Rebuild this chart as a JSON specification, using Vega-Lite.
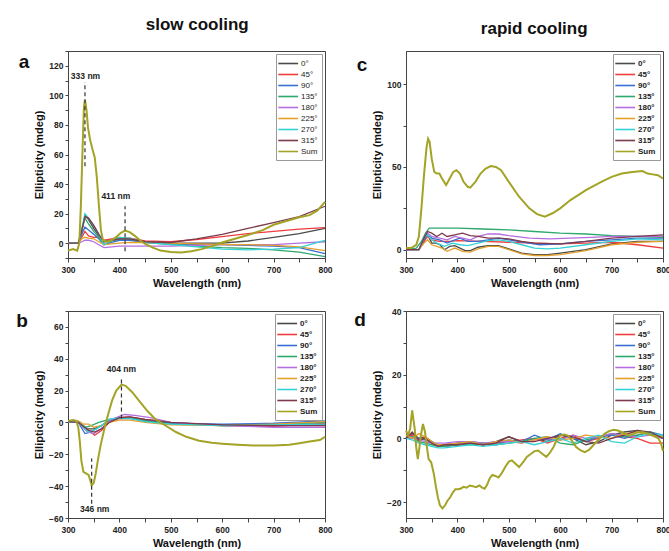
{
"$schema":"https://vega.github.io/schema/vega-lite/v6.json",
"background":"white",
"padding":{"left":15,"top":15,"right":2,"bottom":0},
"config":{
 "font":"Liberation Sans",
 "view":{"stroke":"#444","strokeWidth":1},
 "axis":{"grid":false,"labelFontWeight":"bold","labelFontSize":8.5,"labelColor":"#222","titleFontWeight":"bold","titleFontSize":11,"titleColor":"#111","domainColor":"#444","tickColor":"#444","tickSize":3,"labelPadding":2,"labelOverlap":false,"labelFlush":false,"titlePadding":4,"tickCount":100,"format":"d"},
 "axisX":{"tickSize":4,"labelPadding":3,"titlePadding":4},
 "legend":{"orient":"top-right","offset":3,"strokeColor":"#999","fillColor":"white","padding":4,"symbolType":"M-1.6,0H2.8","symbolSize":81,"symbolStrokeWidth":1.6,"labelFontSize":8,"labelOffset":10,"rowPadding":1,"labelColor":"#222","labelFont":"Liberation Sans"}
},
"datasets":{
"a":[
{"s":"0°","x":300,"y":0},{"s":"0°","x":320,"y":0},{"s":"0°","x":327,"y":8},{"s":"0°","x":333,"y":19},{"s":"0°","x":340,"y":16},{"s":"0°","x":350,"y":10},{"s":"0°","x":360,"y":5},{"s":"0°","x":370,"y":1},{"s":"0°","x":385,"y":2},{"s":"0°","x":400,"y":3},{"s":"0°","x":420,"y":2.5},{"s":"0°","x":450,"y":0.5},{"s":"0°","x":500,"y":0},{"s":"0°","x":550,"y":0},{"s":"0°","x":600,"y":0},{"s":"0°","x":650,"y":1.5},{"s":"0°","x":700,"y":4},{"s":"0°","x":750,"y":6.5},{"s":"0°","x":800,"y":10},
{"s":"45°","x":300,"y":0},{"s":"45°","x":320,"y":0},{"s":"45°","x":327,"y":4},{"s":"45°","x":333,"y":8},{"s":"45°","x":340,"y":5},{"s":"45°","x":350,"y":4},{"s":"45°","x":360,"y":4},{"s":"45°","x":370,"y":2},{"s":"45°","x":385,"y":3},{"s":"45°","x":400,"y":4},{"s":"45°","x":420,"y":3.5},{"s":"45°","x":450,"y":1.5},{"s":"45°","x":500,"y":1},{"s":"45°","x":550,"y":2.5},{"s":"45°","x":600,"y":4.5},{"s":"45°","x":650,"y":6.5},{"s":"45°","x":700,"y":8},{"s":"45°","x":750,"y":9.5},{"s":"45°","x":800,"y":10.5},
{"s":"90°","x":300,"y":0},{"s":"90°","x":320,"y":0},{"s":"90°","x":327,"y":6},{"s":"90°","x":333,"y":11},{"s":"90°","x":340,"y":9},{"s":"90°","x":350,"y":6},{"s":"90°","x":360,"y":3},{"s":"90°","x":370,"y":-1},{"s":"90°","x":385,"y":0.5},{"s":"90°","x":400,"y":2},{"s":"90°","x":420,"y":2},{"s":"90°","x":450,"y":0.5},{"s":"90°","x":500,"y":-0.5},{"s":"90°","x":550,"y":-1},{"s":"90°","x":600,"y":-1},{"s":"90°","x":650,"y":-1.5},{"s":"90°","x":700,"y":-2},{"s":"90°","x":750,"y":-3},{"s":"90°","x":800,"y":-7},
{"s":"135°","x":300,"y":0},{"s":"135°","x":320,"y":0},{"s":"135°","x":327,"y":9},{"s":"135°","x":333,"y":17},{"s":"135°","x":340,"y":13},{"s":"135°","x":350,"y":8},{"s":"135°","x":360,"y":4},{"s":"135°","x":370,"y":-1},{"s":"135°","x":385,"y":1.5},{"s":"135°","x":400,"y":3},{"s":"135°","x":420,"y":3},{"s":"135°","x":450,"y":0.5},{"s":"135°","x":500,"y":-1},{"s":"135°","x":550,"y":-2},{"s":"135°","x":600,"y":-3},{"s":"135°","x":650,"y":-3.5},{"s":"135°","x":700,"y":-4.5},{"s":"135°","x":750,"y":-6},{"s":"135°","x":800,"y":-9},
{"s":"180°","x":300,"y":0},{"s":"180°","x":320,"y":0},{"s":"180°","x":327,"y":1},{"s":"180°","x":333,"y":2},{"s":"180°","x":340,"y":2},{"s":"180°","x":350,"y":1},{"s":"180°","x":360,"y":-1},{"s":"180°","x":370,"y":-3},{"s":"180°","x":385,"y":-2.5},{"s":"180°","x":400,"y":-2},{"s":"180°","x":420,"y":-2},{"s":"180°","x":450,"y":-2},{"s":"180°","x":500,"y":-2},{"s":"180°","x":550,"y":-1.5},{"s":"180°","x":600,"y":-1},{"s":"180°","x":650,"y":-1},{"s":"180°","x":700,"y":-1},{"s":"180°","x":750,"y":0},{"s":"180°","x":800,"y":1},
{"s":"225°","x":300,"y":0},{"s":"225°","x":320,"y":0},{"s":"225°","x":327,"y":3},{"s":"225°","x":333,"y":4},{"s":"225°","x":340,"y":3.5},{"s":"225°","x":350,"y":3},{"s":"225°","x":360,"y":1},{"s":"225°","x":370,"y":-1},{"s":"225°","x":385,"y":-0.5},{"s":"225°","x":400,"y":0},{"s":"225°","x":420,"y":0.5},{"s":"225°","x":450,"y":0.5},{"s":"225°","x":500,"y":0},{"s":"225°","x":550,"y":-0.5},{"s":"225°","x":600,"y":-1},{"s":"225°","x":650,"y":-1},{"s":"225°","x":700,"y":-1.5},{"s":"225°","x":750,"y":-2.5},{"s":"225°","x":800,"y":-5},
{"s":"270°","x":300,"y":0},{"s":"270°","x":320,"y":0},{"s":"270°","x":327,"y":10},{"s":"270°","x":333,"y":20},{"s":"270°","x":340,"y":17},{"s":"270°","x":350,"y":12},{"s":"270°","x":360,"y":6},{"s":"270°","x":370,"y":-1},{"s":"270°","x":385,"y":2},{"s":"270°","x":400,"y":4},{"s":"270°","x":420,"y":3.5},{"s":"270°","x":450,"y":0.5},{"s":"270°","x":500,"y":-1},{"s":"270°","x":550,"y":-2.5},{"s":"270°","x":600,"y":-4},{"s":"270°","x":650,"y":-4.5},{"s":"270°","x":700,"y":-4},{"s":"270°","x":750,"y":-3},{"s":"270°","x":800,"y":2},
{"s":"315°","x":300,"y":0},{"s":"315°","x":320,"y":0},{"s":"315°","x":327,"y":9},{"s":"315°","x":333,"y":18},{"s":"315°","x":340,"y":17},{"s":"315°","x":350,"y":12},{"s":"315°","x":360,"y":6},{"s":"315°","x":370,"y":1},{"s":"315°","x":385,"y":2},{"s":"315°","x":400,"y":3},{"s":"315°","x":420,"y":3},{"s":"315°","x":450,"y":1},{"s":"315°","x":500,"y":0.5},{"s":"315°","x":550,"y":3},{"s":"315°","x":600,"y":6},{"s":"315°","x":650,"y":10},{"s":"315°","x":700,"y":14},{"s":"315°","x":750,"y":18},{"s":"315°","x":800,"y":25},
{"s":"Sum","x":300,"y":-5},{"s":"Sum","x":310,"y":-4},{"s":"Sum","x":318,"y":-5},{"s":"Sum","x":322,"y":0},{"s":"Sum","x":325,"y":25},{"s":"Sum","x":328,"y":60},{"s":"Sum","x":331,"y":92},{"s":"Sum","x":333,"y":97},{"s":"Sum","x":336,"y":90},{"s":"Sum","x":339,"y":78},{"s":"Sum","x":343,"y":70},{"s":"Sum","x":348,"y":63},{"s":"Sum","x":352,"y":58},{"s":"Sum","x":356,"y":45},{"s":"Sum","x":360,"y":26},{"s":"Sum","x":364,"y":9},{"s":"Sum","x":368,"y":2},{"s":"Sum","x":375,"y":1},{"s":"Sum","x":385,"y":2},{"s":"Sum","x":395,"y":4.5},{"s":"Sum","x":403,"y":7},{"s":"Sum","x":411,"y":8.5},{"s":"Sum","x":420,"y":7.5},{"s":"Sum","x":430,"y":5},{"s":"Sum","x":440,"y":2},{"s":"Sum","x":450,"y":-0.5},{"s":"Sum","x":465,"y":-3},{"s":"Sum","x":480,"y":-5},{"s":"Sum","x":500,"y":-6},{"s":"Sum","x":520,"y":-6.2},{"s":"Sum","x":540,"y":-5.5},{"s":"Sum","x":560,"y":-4},{"s":"Sum","x":580,"y":-2},{"s":"Sum","x":600,"y":0.5},{"s":"Sum","x":620,"y":2.5},{"s":"Sum","x":650,"y":5.5},{"s":"Sum","x":680,"y":9},{"s":"Sum","x":700,"y":12.5},{"s":"Sum","x":720,"y":14.5},{"s":"Sum","x":750,"y":17.5},{"s":"Sum","x":770,"y":19},{"s":"Sum","x":785,"y":22},{"s":"Sum","x":800,"y":28}
],
"b":[
{"s":"0°","x":300,"y":0.5},{"s":"0°","x":320,"y":0},{"s":"0°","x":335,"y":-4},{"s":"0°","x":350,"y":-4},{"s":"0°","x":365,"y":-2},{"s":"0°","x":380,"y":1},{"s":"0°","x":400,"y":3},{"s":"0°","x":420,"y":3},{"s":"0°","x":450,"y":1.5},{"s":"0°","x":500,"y":-0.5},{"s":"0°","x":600,"y":-1.5},{"s":"0°","x":700,"y":-1},{"s":"0°","x":800,"y":-1.5},
{"s":"45°","x":300,"y":0.5},{"s":"45°","x":320,"y":0},{"s":"45°","x":340,"y":-5},{"s":"45°","x":352,"y":-8},{"s":"45°","x":365,"y":-5},{"s":"45°","x":380,"y":0},{"s":"45°","x":400,"y":3},{"s":"45°","x":420,"y":3.5},{"s":"45°","x":450,"y":2},{"s":"45°","x":500,"y":0},{"s":"45°","x":600,"y":-2},{"s":"45°","x":700,"y":-2.5},{"s":"45°","x":800,"y":-0.5},
{"s":"90°","x":300,"y":0.5},{"s":"90°","x":320,"y":0},{"s":"90°","x":333,"y":-7},{"s":"90°","x":345,"y":-6},{"s":"90°","x":360,"y":-3},{"s":"90°","x":380,"y":1},{"s":"90°","x":400,"y":2.5},{"s":"90°","x":420,"y":2.5},{"s":"90°","x":450,"y":1},{"s":"90°","x":500,"y":-0.5},{"s":"90°","x":600,"y":-1},{"s":"90°","x":700,"y":-0.5},{"s":"90°","x":800,"y":1},
{"s":"135°","x":300,"y":0.5},{"s":"135°","x":320,"y":0},{"s":"135°","x":335,"y":-3},{"s":"135°","x":345,"y":-2},{"s":"135°","x":360,"y":0},{"s":"135°","x":380,"y":2},{"s":"135°","x":400,"y":3},{"s":"135°","x":420,"y":3},{"s":"135°","x":450,"y":1},{"s":"135°","x":500,"y":-1},{"s":"135°","x":600,"y":-2},{"s":"135°","x":700,"y":-1.5},{"s":"135°","x":800,"y":0},
{"s":"180°","x":300,"y":0.5},{"s":"180°","x":320,"y":0},{"s":"180°","x":338,"y":-6},{"s":"180°","x":350,"y":-7},{"s":"180°","x":365,"y":-4},{"s":"180°","x":385,"y":2},{"s":"180°","x":410,"y":5},{"s":"180°","x":430,"y":4.5},{"s":"180°","x":460,"y":3},{"s":"180°","x":500,"y":0},{"s":"180°","x":600,"y":-2},{"s":"180°","x":700,"y":-3},{"s":"180°","x":800,"y":-3},
{"s":"225°","x":300,"y":1},{"s":"225°","x":320,"y":1},{"s":"225°","x":330,"y":-1},{"s":"225°","x":340,"y":-1},{"s":"225°","x":350,"y":-3},{"s":"225°","x":365,"y":-2},{"s":"225°","x":380,"y":0},{"s":"225°","x":400,"y":1.5},{"s":"225°","x":420,"y":1.5},{"s":"225°","x":450,"y":0},{"s":"225°","x":500,"y":-1.5},{"s":"225°","x":600,"y":-2},{"s":"225°","x":700,"y":-1},{"s":"225°","x":800,"y":0.5},
{"s":"270°","x":300,"y":0.5},{"s":"270°","x":320,"y":0},{"s":"270°","x":340,"y":-6},{"s":"270°","x":350,"y":-5},{"s":"270°","x":365,"y":-2},{"s":"270°","x":380,"y":2},{"s":"270°","x":400,"y":3},{"s":"270°","x":420,"y":2.5},{"s":"270°","x":450,"y":0.5},{"s":"270°","x":500,"y":-1},{"s":"270°","x":600,"y":-2},{"s":"270°","x":700,"y":-1.5},{"s":"270°","x":800,"y":-1},
{"s":"315°","x":300,"y":0.5},{"s":"315°","x":320,"y":0},{"s":"315°","x":340,"y":-5},{"s":"315°","x":352,"y":-6},{"s":"315°","x":365,"y":-4},{"s":"315°","x":380,"y":0},{"s":"315°","x":400,"y":3},{"s":"315°","x":420,"y":3.5},{"s":"315°","x":450,"y":2},{"s":"315°","x":500,"y":0},{"s":"315°","x":600,"y":-1.5},{"s":"315°","x":700,"y":-2},{"s":"315°","x":800,"y":-2},
{"s":"Sum","x":300,"y":1},{"s":"Sum","x":310,"y":1.5},{"s":"Sum","x":316,"y":1},{"s":"Sum","x":320,"y":-3},{"s":"Sum","x":323,"y":-12},{"s":"Sum","x":326,"y":-24},{"s":"Sum","x":330,"y":-31},{"s":"Sum","x":335,"y":-32},{"s":"Sum","x":340,"y":-33},{"s":"Sum","x":343,"y":-36},{"s":"Sum","x":346,"y":-39.5},{"s":"Sum","x":350,"y":-38},{"s":"Sum","x":354,"y":-32},{"s":"Sum","x":358,"y":-24},{"s":"Sum","x":363,"y":-15},{"s":"Sum","x":370,"y":-5},{"s":"Sum","x":378,"y":5},{"s":"Sum","x":386,"y":14},{"s":"Sum","x":394,"y":20},{"s":"Sum","x":404,"y":23.8},{"s":"Sum","x":412,"y":23},{"s":"Sum","x":425,"y":19},{"s":"Sum","x":440,"y":13},{"s":"Sum","x":455,"y":7},{"s":"Sum","x":470,"y":2},{"s":"Sum","x":480,"y":0},{"s":"Sum","x":495,"y":-3},{"s":"Sum","x":510,"y":-6},{"s":"Sum","x":530,"y":-9},{"s":"Sum","x":555,"y":-11.5},{"s":"Sum","x":580,"y":-12.8},{"s":"Sum","x":600,"y":-13.3},{"s":"Sum","x":630,"y":-14},{"s":"Sum","x":660,"y":-14.5},{"s":"Sum","x":700,"y":-14.5},{"s":"Sum","x":730,"y":-14},{"s":"Sum","x":750,"y":-13},{"s":"Sum","x":770,"y":-12},{"s":"Sum","x":790,"y":-11},{"s":"Sum","x":800,"y":-9}
],
"c":[
{"s":"0°","x":300,"y":0},{"s":"0°","x":325,"y":0},{"s":"0°","x":335,"y":5},{"s":"0°","x":342,"y":9},{"s":"0°","x":350,"y":4},{"s":"0°","x":358,"y":4},{"s":"0°","x":366,"y":3},{"s":"0°","x":375,"y":0},{"s":"0°","x":385,"y":2},{"s":"0°","x":395,"y":2.5},{"s":"0°","x":405,"y":1},{"s":"0°","x":415,"y":-0.5},{"s":"0°","x":425,"y":-0.5},{"s":"0°","x":440,"y":1.5},{"s":"0°","x":460,"y":2.5},{"s":"0°","x":480,"y":2.5},{"s":"0°","x":500,"y":0.5},{"s":"0°","x":525,"y":-2},{"s":"0°","x":550,"y":-3},{"s":"0°","x":575,"y":-3},{"s":"0°","x":600,"y":-2},{"s":"0°","x":650,"y":0},{"s":"0°","x":700,"y":3.5},{"s":"0°","x":750,"y":5},{"s":"0°","x":800,"y":5},
{"s":"45°","x":300,"y":0},{"s":"45°","x":325,"y":0},{"s":"45°","x":335,"y":5},{"s":"45°","x":342,"y":8},{"s":"45°","x":350,"y":6},{"s":"45°","x":365,"y":5},{"s":"45°","x":385,"y":5},{"s":"45°","x":400,"y":5.5},{"s":"45°","x":450,"y":5},{"s":"45°","x":500,"y":4.5},{"s":"45°","x":550,"y":4},{"s":"45°","x":600,"y":3.5},{"s":"45°","x":650,"y":4},{"s":"45°","x":700,"y":4.5},{"s":"45°","x":750,"y":3},{"s":"45°","x":800,"y":1},
{"s":"90°","x":300,"y":0},{"s":"90°","x":325,"y":0},{"s":"90°","x":335,"y":6},{"s":"90°","x":342,"y":9},{"s":"90°","x":350,"y":7},{"s":"90°","x":365,"y":6},{"s":"90°","x":380,"y":4},{"s":"90°","x":395,"y":6},{"s":"90°","x":405,"y":7},{"s":"90°","x":420,"y":5},{"s":"90°","x":440,"y":5},{"s":"90°","x":460,"y":6},{"s":"90°","x":480,"y":7},{"s":"90°","x":500,"y":6},{"s":"90°","x":530,"y":4.5},{"s":"90°","x":560,"y":3},{"s":"90°","x":600,"y":3.5},{"s":"90°","x":650,"y":5},{"s":"90°","x":700,"y":6},{"s":"90°","x":750,"y":7},{"s":"90°","x":800,"y":7},
{"s":"135°","x":300,"y":0},{"s":"135°","x":320,"y":1},{"s":"135°","x":330,"y":5},{"s":"135°","x":338,"y":10},{"s":"135°","x":345,"y":13},{"s":"135°","x":400,"y":13},{"s":"135°","x":450,"y":12.5},{"s":"135°","x":500,"y":12},{"s":"135°","x":550,"y":11},{"s":"135°","x":600,"y":10},{"s":"135°","x":650,"y":9.5},{"s":"135°","x":700,"y":8.5},{"s":"135°","x":750,"y":8},{"s":"135°","x":800,"y":7.5},
{"s":"180°","x":300,"y":0},{"s":"180°","x":325,"y":0},{"s":"180°","x":335,"y":7},{"s":"180°","x":342,"y":10},{"s":"180°","x":350,"y":8},{"s":"180°","x":365,"y":7},{"s":"180°","x":380,"y":6},{"s":"180°","x":395,"y":8},{"s":"180°","x":410,"y":7},{"s":"180°","x":425,"y":6},{"s":"180°","x":440,"y":8},{"s":"180°","x":460,"y":9.5},{"s":"180°","x":480,"y":9.5},{"s":"180°","x":500,"y":8.5},{"s":"180°","x":540,"y":7},{"s":"180°","x":580,"y":6.5},{"s":"180°","x":620,"y":7},{"s":"180°","x":660,"y":7.5},{"s":"180°","x":700,"y":8},{"s":"180°","x":750,"y":8},{"s":"180°","x":800,"y":8},
{"s":"225°","x":300,"y":0},{"s":"225°","x":325,"y":0},{"s":"225°","x":335,"y":4},{"s":"225°","x":342,"y":6},{"s":"225°","x":350,"y":3},{"s":"225°","x":360,"y":2},{"s":"225°","x":370,"y":1},{"s":"225°","x":380,"y":-1},{"s":"225°","x":395,"y":1},{"s":"225°","x":410,"y":-1},{"s":"225°","x":425,"y":-1.5},{"s":"225°","x":440,"y":0.5},{"s":"225°","x":460,"y":2},{"s":"225°","x":480,"y":2},{"s":"225°","x":500,"y":0},{"s":"225°","x":525,"y":-2.5},{"s":"225°","x":550,"y":-3.5},{"s":"225°","x":575,"y":-3.5},{"s":"225°","x":600,"y":-3},{"s":"225°","x":650,"y":-0.5},{"s":"225°","x":700,"y":3},{"s":"225°","x":750,"y":4.5},{"s":"225°","x":800,"y":5},
{"s":"270°","x":300,"y":0},{"s":"270°","x":325,"y":0},{"s":"270°","x":335,"y":7},{"s":"270°","x":342,"y":9},{"s":"270°","x":350,"y":6},{"s":"270°","x":360,"y":4},{"s":"270°","x":375,"y":2},{"s":"270°","x":390,"y":4},{"s":"270°","x":405,"y":3},{"s":"270°","x":420,"y":2.5},{"s":"270°","x":440,"y":4},{"s":"270°","x":460,"y":5.5},{"s":"270°","x":480,"y":6},{"s":"270°","x":500,"y":5},{"s":"270°","x":525,"y":3},{"s":"270°","x":550,"y":1},{"s":"270°","x":575,"y":0.5},{"s":"270°","x":600,"y":1},{"s":"270°","x":650,"y":3},{"s":"270°","x":700,"y":5},{"s":"270°","x":750,"y":6.5},{"s":"270°","x":800,"y":6},
{"s":"315°","x":300,"y":0},{"s":"315°","x":325,"y":0},{"s":"315°","x":335,"y":7},{"s":"315°","x":342,"y":11},{"s":"315°","x":350,"y":10},{"s":"315°","x":360,"y":8},{"s":"315°","x":370,"y":10},{"s":"315°","x":380,"y":8},{"s":"315°","x":395,"y":9},{"s":"315°","x":410,"y":10},{"s":"315°","x":425,"y":8.5},{"s":"315°","x":440,"y":8},{"s":"315°","x":460,"y":7},{"s":"315°","x":480,"y":7},{"s":"315°","x":500,"y":6.5},{"s":"315°","x":525,"y":5},{"s":"315°","x":550,"y":4},{"s":"315°","x":600,"y":3.5},{"s":"315°","x":650,"y":5},{"s":"315°","x":700,"y":7},{"s":"315°","x":750,"y":8},{"s":"315°","x":800,"y":9},
{"s":"Sum","x":300,"y":1},{"s":"Sum","x":310,"y":1},{"s":"Sum","x":320,"y":3},{"s":"Sum","x":325,"y":8},{"s":"Sum","x":330,"y":25},{"s":"Sum","x":335,"y":45},{"s":"Sum","x":340,"y":62},{"s":"Sum","x":343,"y":67},{"s":"Sum","x":346,"y":65},{"s":"Sum","x":350,"y":55},{"s":"Sum","x":355,"y":47},{"s":"Sum","x":360,"y":46},{"s":"Sum","x":365,"y":46},{"s":"Sum","x":370,"y":43},{"s":"Sum","x":378,"y":39},{"s":"Sum","x":385,"y":43},{"s":"Sum","x":392,"y":47},{"s":"Sum","x":398,"y":48},{"s":"Sum","x":405,"y":46},{"s":"Sum","x":412,"y":41},{"s":"Sum","x":420,"y":38},{"s":"Sum","x":425,"y":37.5},{"s":"Sum","x":435,"y":41},{"s":"Sum","x":445,"y":46},{"s":"Sum","x":455,"y":49},{"s":"Sum","x":465,"y":50.5},{"s":"Sum","x":475,"y":50},{"s":"Sum","x":485,"y":48},{"s":"Sum","x":500,"y":41},{"s":"Sum","x":520,"y":32},{"s":"Sum","x":540,"y":25},{"s":"Sum","x":555,"y":21.5},{"s":"Sum","x":570,"y":20},{"s":"Sum","x":585,"y":22},{"s":"Sum","x":600,"y":25},{"s":"Sum","x":620,"y":30},{"s":"Sum","x":650,"y":36},{"s":"Sum","x":680,"y":41},{"s":"Sum","x":700,"y":44},{"s":"Sum","x":720,"y":46},{"s":"Sum","x":740,"y":47},{"s":"Sum","x":760,"y":47.5},{"s":"Sum","x":770,"y":46},{"s":"Sum","x":780,"y":45.5},{"s":"Sum","x":790,"y":45},{"s":"Sum","x":800,"y":43}
],
"d":[
{"s":"0°","x":300,"y":0},{"s":"0°","x":312,"y":1.5},{"s":"0°","x":325,"y":0},{"s":"0°","x":337,"y":0.5},{"s":"0°","x":350,"y":-1},{"s":"0°","x":362,"y":-2.5},{"s":"0°","x":375,"y":-2.5},{"s":"0°","x":400,"y":-2},{"s":"0°","x":425,"y":-1.5},{"s":"0°","x":450,"y":-2},{"s":"0°","x":475,"y":-1},{"s":"0°","x":500,"y":0.5},{"s":"0°","x":525,"y":-1},{"s":"0°","x":550,"y":0},{"s":"0°","x":575,"y":-1},{"s":"0°","x":600,"y":1},{"s":"0°","x":625,"y":0},{"s":"0°","x":650,"y":-2},{"s":"0°","x":675,"y":-1},{"s":"0°","x":700,"y":1},{"s":"0°","x":725,"y":2},{"s":"0°","x":750,"y":2.5},{"s":"0°","x":775,"y":1.5},{"s":"0°","x":800,"y":0},
{"s":"45°","x":300,"y":0.5},{"s":"45°","x":312,"y":1},{"s":"45°","x":325,"y":-1},{"s":"45°","x":337,"y":0.5},{"s":"45°","x":350,"y":-1.5},{"s":"45°","x":362,"y":-2},{"s":"45°","x":375,"y":-2},{"s":"45°","x":400,"y":-1.5},{"s":"45°","x":425,"y":-1},{"s":"45°","x":450,"y":-2},{"s":"45°","x":475,"y":-1.5},{"s":"45°","x":500,"y":-1},{"s":"45°","x":525,"y":-0.5},{"s":"45°","x":550,"y":0},{"s":"45°","x":575,"y":-1.5},{"s":"45°","x":600,"y":0},{"s":"45°","x":625,"y":1},{"s":"45°","x":650,"y":-1},{"s":"45°","x":675,"y":0},{"s":"45°","x":700,"y":1.5},{"s":"45°","x":725,"y":0.5},{"s":"45°","x":750,"y":0},{"s":"45°","x":775,"y":-1.5},{"s":"45°","x":800,"y":-1.5},
{"s":"90°","x":300,"y":0},{"s":"90°","x":312,"y":0.5},{"s":"90°","x":325,"y":0},{"s":"90°","x":337,"y":-0.5},{"s":"90°","x":350,"y":-1},{"s":"90°","x":362,"y":-2},{"s":"90°","x":375,"y":-2},{"s":"90°","x":400,"y":-1.5},{"s":"90°","x":425,"y":-1},{"s":"90°","x":450,"y":-1.5},{"s":"90°","x":475,"y":-2},{"s":"90°","x":500,"y":-0.5},{"s":"90°","x":525,"y":-1},{"s":"90°","x":550,"y":1},{"s":"90°","x":575,"y":-0.5},{"s":"90°","x":600,"y":1.5},{"s":"90°","x":625,"y":0},{"s":"90°","x":650,"y":-1},{"s":"90°","x":675,"y":0.5},{"s":"90°","x":700,"y":1},{"s":"90°","x":725,"y":0},{"s":"90°","x":750,"y":1},{"s":"90°","x":775,"y":2},{"s":"90°","x":800,"y":1},
{"s":"135°","x":300,"y":0},{"s":"135°","x":312,"y":0.5},{"s":"135°","x":325,"y":-1},{"s":"135°","x":337,"y":-1.5},{"s":"135°","x":350,"y":-2},{"s":"135°","x":362,"y":-2.5},{"s":"135°","x":375,"y":-2.5},{"s":"135°","x":400,"y":-2},{"s":"135°","x":425,"y":-2},{"s":"135°","x":450,"y":-1.5},{"s":"135°","x":475,"y":-2},{"s":"135°","x":500,"y":-1.5},{"s":"135°","x":525,"y":-1},{"s":"135°","x":550,"y":0},{"s":"135°","x":575,"y":0.5},{"s":"135°","x":600,"y":-1.5},{"s":"135°","x":625,"y":-2},{"s":"135°","x":650,"y":-0.5},{"s":"135°","x":675,"y":0.5},{"s":"135°","x":700,"y":1.5},{"s":"135°","x":725,"y":0.5},{"s":"135°","x":750,"y":1},{"s":"135°","x":775,"y":2},{"s":"135°","x":800,"y":0.5},
{"s":"180°","x":300,"y":0},{"s":"180°","x":312,"y":0},{"s":"180°","x":325,"y":-0.5},{"s":"180°","x":337,"y":-1},{"s":"180°","x":350,"y":-1.5},{"s":"180°","x":362,"y":-1.5},{"s":"180°","x":375,"y":-1.5},{"s":"180°","x":400,"y":-1},{"s":"180°","x":425,"y":-1},{"s":"180°","x":450,"y":-1.5},{"s":"180°","x":475,"y":-1},{"s":"180°","x":500,"y":-1},{"s":"180°","x":525,"y":-1.5},{"s":"180°","x":550,"y":-0.5},{"s":"180°","x":575,"y":0},{"s":"180°","x":600,"y":-0.5},{"s":"180°","x":625,"y":1},{"s":"180°","x":650,"y":0},{"s":"180°","x":675,"y":0.5},{"s":"180°","x":700,"y":1.5},{"s":"180°","x":725,"y":1},{"s":"180°","x":750,"y":0.5},{"s":"180°","x":775,"y":1},{"s":"180°","x":800,"y":0},
{"s":"225°","x":300,"y":1},{"s":"225°","x":312,"y":0},{"s":"225°","x":325,"y":1.5},{"s":"225°","x":337,"y":0.5},{"s":"225°","x":350,"y":-1},{"s":"225°","x":362,"y":-2},{"s":"225°","x":375,"y":-2},{"s":"225°","x":400,"y":-1.5},{"s":"225°","x":425,"y":-1},{"s":"225°","x":450,"y":-2},{"s":"225°","x":475,"y":-1},{"s":"225°","x":500,"y":-0.5},{"s":"225°","x":525,"y":-1.5},{"s":"225°","x":550,"y":-0.5},{"s":"225°","x":575,"y":0.5},{"s":"225°","x":600,"y":-0.5},{"s":"225°","x":625,"y":0},{"s":"225°","x":650,"y":1},{"s":"225°","x":675,"y":0.5},{"s":"225°","x":700,"y":0},{"s":"225°","x":725,"y":1.5},{"s":"225°","x":750,"y":2},{"s":"225°","x":775,"y":1},{"s":"225°","x":800,"y":0.5},
{"s":"270°","x":300,"y":0},{"s":"270°","x":312,"y":-0.5},{"s":"270°","x":325,"y":-1.5},{"s":"270°","x":337,"y":-2},{"s":"270°","x":350,"y":-2.5},{"s":"270°","x":362,"y":-3},{"s":"270°","x":375,"y":-3},{"s":"270°","x":400,"y":-2.5},{"s":"270°","x":425,"y":-2},{"s":"270°","x":450,"y":-2.5},{"s":"270°","x":475,"y":-2},{"s":"270°","x":500,"y":-1.5},{"s":"270°","x":525,"y":-1},{"s":"270°","x":550,"y":-2},{"s":"270°","x":575,"y":-1},{"s":"270°","x":600,"y":0},{"s":"270°","x":625,"y":-1.5},{"s":"270°","x":650,"y":0},{"s":"270°","x":675,"y":1},{"s":"270°","x":700,"y":-1},{"s":"270°","x":725,"y":-1.5},{"s":"270°","x":750,"y":0.5},{"s":"270°","x":775,"y":1.5},{"s":"270°","x":800,"y":1},
{"s":"315°","x":300,"y":0},{"s":"315°","x":312,"y":2},{"s":"315°","x":325,"y":-0.5},{"s":"315°","x":337,"y":0},{"s":"315°","x":350,"y":-1.5},{"s":"315°","x":362,"y":-2.5},{"s":"315°","x":375,"y":-2},{"s":"315°","x":400,"y":-2},{"s":"315°","x":425,"y":-1.5},{"s":"315°","x":450,"y":-2},{"s":"315°","x":475,"y":-1.5},{"s":"315°","x":500,"y":0.5},{"s":"315°","x":525,"y":-1},{"s":"315°","x":550,"y":-1},{"s":"315°","x":575,"y":0},{"s":"315°","x":600,"y":1},{"s":"315°","x":625,"y":0.5},{"s":"315°","x":650,"y":-1},{"s":"315°","x":675,"y":-1.5},{"s":"315°","x":700,"y":0},{"s":"315°","x":725,"y":1},{"s":"315°","x":750,"y":2.5},{"s":"315°","x":775,"y":2},{"s":"315°","x":800,"y":0},
{"s":"Sum","x":300,"y":2.5},{"s":"Sum","x":304,"y":1},{"s":"Sum","x":308,"y":3},{"s":"Sum","x":312,"y":8.8},{"s":"Sum","x":317,"y":3},{"s":"Sum","x":320,"y":-3},{"s":"Sum","x":323,"y":-6.5},{"s":"Sum","x":326,"y":-3},{"s":"Sum","x":329,"y":1},{"s":"Sum","x":333,"y":4.5},{"s":"Sum","x":337,"y":2},{"s":"Sum","x":340,"y":-2},{"s":"Sum","x":344,"y":-6.5},{"s":"Sum","x":349,"y":-7.5},{"s":"Sum","x":354,"y":-11},{"s":"Sum","x":358,"y":-15},{"s":"Sum","x":362,"y":-18.5},{"s":"Sum","x":366,"y":-21},{"s":"Sum","x":371,"y":-22},{"s":"Sum","x":376,"y":-21},{"s":"Sum","x":381,"y":-19.5},{"s":"Sum","x":386,"y":-18.5},{"s":"Sum","x":391,"y":-17},{"s":"Sum","x":396,"y":-16},{"s":"Sum","x":401,"y":-16},{"s":"Sum","x":406,"y":-15.8},{"s":"Sum","x":412,"y":-15.2},{"s":"Sum","x":418,"y":-15.5},{"s":"Sum","x":424,"y":-14.8},{"s":"Sum","x":430,"y":-15},{"s":"Sum","x":436,"y":-15.3},{"s":"Sum","x":443,"y":-14.8},{"s":"Sum","x":448,"y":-15.5},{"s":"Sum","x":453,"y":-15.8},{"s":"Sum","x":458,"y":-14.5},{"s":"Sum","x":463,"y":-12.5},{"s":"Sum","x":468,"y":-11.5},{"s":"Sum","x":474,"y":-11.8},{"s":"Sum","x":480,"y":-12.3},{"s":"Sum","x":486,"y":-11},{"s":"Sum","x":493,"y":-9},{"s":"Sum","x":500,"y":-7.3},{"s":"Sum","x":506,"y":-6.9},{"s":"Sum","x":512,"y":-7.8},{"s":"Sum","x":520,"y":-9},{"s":"Sum","x":528,"y":-7.5},{"s":"Sum","x":535,"y":-5.8},{"s":"Sum","x":542,"y":-5},{"s":"Sum","x":550,"y":-4},{"s":"Sum","x":557,"y":-3.8},{"s":"Sum","x":565,"y":-4.8},{"s":"Sum","x":573,"y":-5.8},{"s":"Sum","x":580,"y":-4.5},{"s":"Sum","x":587,"y":-2.7},{"s":"Sum","x":593,"y":-0.5},{"s":"Sum","x":600,"y":0.9},{"s":"Sum","x":608,"y":1.2},{"s":"Sum","x":615,"y":0.9},{"s":"Sum","x":623,"y":-0.8},{"s":"Sum","x":631,"y":-2.7},{"s":"Sum","x":640,"y":-3.8},{"s":"Sum","x":648,"y":-4.3},{"s":"Sum","x":657,"y":-3.5},{"s":"Sum","x":667,"y":-1.7},{"s":"Sum","x":677,"y":0},{"s":"Sum","x":687,"y":1.5},{"s":"Sum","x":695,"y":2.3},{"s":"Sum","x":704,"y":2.7},{"s":"Sum","x":712,"y":2.5},{"s":"Sum","x":719,"y":2},{"s":"Sum","x":727,"y":1.3},{"s":"Sum","x":735,"y":0.9},{"s":"Sum","x":743,"y":1.4},{"s":"Sum","x":752,"y":2},{"s":"Sum","x":761,"y":1.9},{"s":"Sum","x":771,"y":1.5},{"s":"Sum","x":781,"y":0.8},{"s":"Sum","x":791,"y":0},{"s":"Sum","x":796,"y":-1.5},{"s":"Sum","x":800,"y":-4}
],
"rules":[
{"p":"a","x":333,"y":52,"y2":109},
{"p":"a","x":411,"y":-5.5,"y2":25},
{"p":"b","x":404,"y":2.5,"y2":27},
{"p":"b","x":346,"y":-51,"y2":-22.7}
],
"labels":[
{"p":"a","x":334,"y":113,"t":"333 nm"},
{"p":"a","x":393,"y":32,"t":"411 nm"},
{"p":"b","x":404,"y":33.4,"t":"404 nm"},
{"p":"b","x":352,"y":-54.5,"t":"346 nm"}
]
},
"resolve":{"legend":{"color":"independent"}},
"spacing":20,
"hconcat":[
{
 "title":{"text":"slow cooling","fontSize":17,"fontWeight":"bold","color":"#111","anchor":"middle","offset":13,"dx":23},
 "resolve":{"legend":{"color":"independent"}},
 "spacing":17,
 "vconcat":[
 {
  "width":257,"height":207,
  "title":{"text":"a","orient":"left","anchor":"end","angle":0,"align":"right","baseline":"alphabetic","dy":21,"offset":-6,"fontSize":19,"fontWeight":"bold","color":"#111"},
  "layer":[
   {"data":{"name":"a"},"transform":[{"filter":"datum.s !== 'Sum'"}],"mark":{"type":"line","strokeWidth":1.3},
    "encoding":{
     "x":{"field":"x","type":"quantitative","scale":{"domain":[300,800],"nice":false},"axis":{"title":"Wavelength (nm)","labelOverlap":false,"tickCount":100,"values":[300,350,400,450,500,550,600,650,700,750,800],"labelExpr":"datum.value % 100 === 0 ? datum.label : ''"}},
     "y":{"field":"y","type":"quantitative","scale":{"domain":[-10,130],"nice":false,"zero":false},"axis":{"title":"Ellipticity (mdeg)","labelOverlap":false,"tickCount":100,"values":[-10,0,10,20,30,40,50,60,70,80,90,100,110,120,130],"labelExpr":"datum.value % 20 === 0 && datum.value >= 0 && datum.value <= 120 ? datum.label : ''"}},
     "color":{"field":"s","type":"nominal","scale":{"domain":["0°","45°","90°","135°","180°","225°","270°","315°","Sum"],"range":["#4a4a4a","#f03c3c","#3a6fd2","#2ea86c","#b46ee0","#e4a02c","#34d2d6","#7c3a4c","#a3a325"]},"legend":{"title":null,"labelFontWeight":"normal"}}
    }},
   {"data":{"name":"a"},"transform":[{"filter":"datum.s === 'Sum'"}],"mark":{"type":"line","strokeWidth":2},
    "encoding":{"x":{"field":"x","type":"quantitative"},"y":{"field":"y","type":"quantitative"},"color":{"field":"s","type":"nominal"}}},
   {"data":{"name":"rules"},"transform":[{"filter":"datum.p === 'a'"}],"mark":{"type":"rule","strokeDash":[4,3],"color":"#333","strokeWidth":1.2},
    "encoding":{"x":{"field":"x","type":"quantitative"},"y":{"field":"y","type":"quantitative"},"y2":{"field":"y2"}}},
   {"data":{"name":"labels"},"transform":[{"filter":"datum.p === 'a'"}],"mark":{"type":"text","fontWeight":"bold","fontSize":8.5,"color":"#222"},
    "encoding":{"x":{"field":"x","type":"quantitative"},"y":{"field":"y","type":"quantitative"},"text":{"field":"t"}}}
  ]
 },
 {
  "width":257,"height":207,
  "title":{"text":"b","orient":"left","anchor":"end","angle":0,"align":"right","baseline":"alphabetic","dy":20,"offset":-6,"fontSize":19,"fontWeight":"bold","color":"#111"},
  "layer":[
   {"data":{"name":"b"},"transform":[{"filter":"datum.s !== 'Sum'"}],"mark":{"type":"line","strokeWidth":1.3},
    "encoding":{
     "x":{"field":"x","type":"quantitative","scale":{"domain":[300,800],"nice":false},"axis":{"title":"Wavelength (nm)","labelOverlap":false,"tickCount":100,"values":[300,350,400,450,500,550,600,650,700,750,800],"labelExpr":"datum.value % 100 === 0 ? datum.label : ''"}},
     "y":{"field":"y","type":"quantitative","scale":{"domain":[-60,70],"nice":false,"zero":false},"axis":{"title":"Ellipticity (mdeg)","labelOverlap":false,"tickCount":100,"values":[-60,-50,-40,-30,-20,-10,0,10,20,30,40,50,60,70],"labelExpr":"datum.value % 20 === 0 && datum.value <= 60 ? datum.label : ''"}},
     "color":{"field":"s","type":"nominal","scale":{"domain":["0°","45°","90°","135°","180°","225°","270°","315°","Sum"],"range":["#4a4a4a","#f03c3c","#3a6fd2","#2ea86c","#b46ee0","#e4a02c","#34d2d6","#7c3a4c","#a3a325"]},"legend":{"title":null,"labelFontWeight":"bold"}}
    }},
   {"data":{"name":"b"},"transform":[{"filter":"datum.s === 'Sum'"}],"mark":{"type":"line","strokeWidth":2},
    "encoding":{"x":{"field":"x","type":"quantitative"},"y":{"field":"y","type":"quantitative"},"color":{"field":"s","type":"nominal"}}},
   {"data":{"name":"rules"},"transform":[{"filter":"datum.p === 'b'"}],"mark":{"type":"rule","strokeDash":[4,3],"color":"#333","strokeWidth":1.2},
    "encoding":{"x":{"field":"x","type":"quantitative"},"y":{"field":"y","type":"quantitative"},"y2":{"field":"y2"}}},
   {"data":{"name":"labels"},"transform":[{"filter":"datum.p === 'b'"}],"mark":{"type":"text","fontWeight":"bold","fontSize":8.5,"color":"#222"},
    "encoding":{"x":{"field":"x","type":"quantitative"},"y":{"field":"y","type":"quantitative"},"text":{"field":"t"}}}
  ]
 }
 ]
},
{
 "title":{"text":"rapid cooling","fontSize":17,"fontWeight":"bold","color":"#111","anchor":"middle","offset":13,"dx":22},
 "resolve":{"legend":{"color":"independent"}},
 "spacing":17,
 "vconcat":[
 {
  "width":257,"height":207,
  "title":{"text":"c","orient":"left","anchor":"end","angle":0,"align":"right","baseline":"alphabetic","dy":20,"offset":-6,"fontSize":19,"fontWeight":"bold","color":"#111"},
  "layer":[
   {"data":{"name":"c"},"transform":[{"filter":"datum.s !== 'Sum'"}],"mark":{"type":"line","strokeWidth":1.3},
    "encoding":{
     "x":{"field":"x","type":"quantitative","scale":{"domain":[300,800],"nice":false},"axis":{"title":"Wavelength (nm)","labelOverlap":false,"tickCount":100,"values":[300,350,400,450,500,550,600,650,700,750,800],"labelExpr":"datum.value % 100 === 0 ? datum.label : ''"}},
     "y":{"field":"y","type":"quantitative","scale":{"domain":[-5,120],"nice":false,"zero":false},"axis":{"title":"Ellipticity (mdeg)","labelOverlap":false,"tickCount":100,"values":[0,25,50,75,100],"labelExpr":"datum.value % 50 === 0 ? datum.label : ''"}},
     "color":{"field":"s","type":"nominal","scale":{"domain":["0°","45°","90°","135°","180°","225°","270°","315°","Sum"],"range":["#4a4a4a","#f03c3c","#3a6fd2","#2ea86c","#b46ee0","#e4a02c","#34d2d6","#7c3a4c","#a3a325"]},"legend":{"title":null,"labelFontWeight":"bold"}}
    }},
   {"data":{"name":"c"},"transform":[{"filter":"datum.s === 'Sum'"}],"mark":{"type":"line","strokeWidth":2},
    "encoding":{"x":{"field":"x","type":"quantitative"},"y":{"field":"y","type":"quantitative"},"color":{"field":"s","type":"nominal"}}}
  ]
 },
 {
  "width":257,"height":207,
  "title":{"text":"d","orient":"left","anchor":"end","angle":0,"align":"right","baseline":"alphabetic","dy":19,"offset":-6,"fontSize":19,"fontWeight":"bold","color":"#111"},
  "layer":[
   {"data":{"name":"d"},"transform":[{"filter":"datum.s !== 'Sum'"}],"mark":{"type":"line","strokeWidth":1.3},
    "encoding":{
     "x":{"field":"x","type":"quantitative","scale":{"domain":[300,800],"nice":false},"axis":{"title":"Wavelength (nm)","labelOverlap":false,"tickCount":100,"values":[300,350,400,450,500,550,600,650,700,750,800],"labelExpr":"datum.value % 100 === 0 ? datum.label : ''"}},
     "y":{"field":"y","type":"quantitative","scale":{"domain":[-25,40],"nice":false,"zero":false},"axis":{"title":"Ellipticity (mdeg)","labelOverlap":false,"tickCount":100,"values":[-20,-10,0,10,20,30,40],"labelExpr":"datum.value % 20 === 0 ? datum.label : ''"}},
     "color":{"field":"s","type":"nominal","scale":{"domain":["0°","45°","90°","135°","180°","225°","270°","315°","Sum"],"range":["#4a4a4a","#f03c3c","#3a6fd2","#2ea86c","#b46ee0","#e4a02c","#34d2d6","#7c3a4c","#a3a325"]},"legend":{"title":null,"labelFontWeight":"bold"}}
    }},
   {"data":{"name":"d"},"transform":[{"filter":"datum.s === 'Sum'"}],"mark":{"type":"line","strokeWidth":2},
    "encoding":{"x":{"field":"x","type":"quantitative"},"y":{"field":"y","type":"quantitative"},"color":{"field":"s","type":"nominal"}}}
  ]
 }
 ]
}
]
}
